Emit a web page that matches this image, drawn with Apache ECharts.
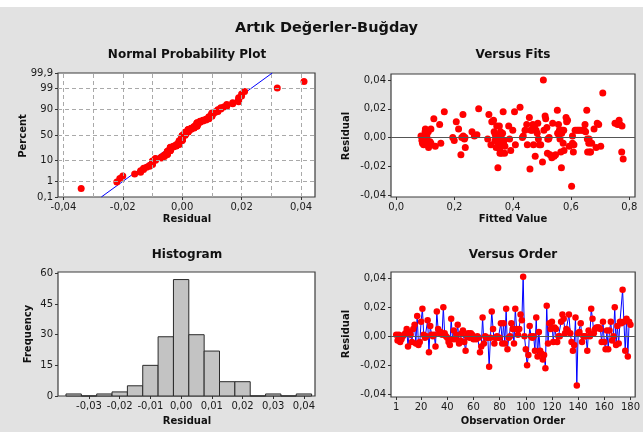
<!DOCTYPE html>
<html>
<head>
<meta charset="utf-8">
<script src="https://cdn.jsdelivr.net/npm/echarts@6/dist/echarts.min.js"></script>
<style>
  html, body { margin: 0; padding: 0; background: #e2e2e2; }
  #c { width: 643px; height: 432px; }
</style>
</head>
<body>
<div id="c"></div>
<script>
// Residuals in observation order (1..180)
const residuals = [
  0.001, -0.003, 0.001, -0.004, -0.002, 0.000, 0.001, 0.002, 0.005, -0.007,
  0.003, 0.001, -0.004, 0.005, 0.008, -0.005, 0.014, -0.006, -0.004, 0.010,
  0.019, 0.001, -0.001, 0.000, 0.011, -0.011, 0.007, 0.001, 0.000, 0.001,
  -0.007, 0.017, 0.005, 0.002, 0.003, 0.001, 0.020, 0.002, 0.000, -0.001,
  -0.004, -0.006, 0.012, -0.002, 0.004, -0.002, 0.001, 0.008, -0.005, -0.003,
  0.002, 0.004, -0.004, -0.010, 0.000, 0.002, -0.001, 0.002, 0.001, -0.002,
  -0.001, -0.002, 0.000, -0.001, -0.011, -0.007, 0.013, -0.005, 0.000, -0.001,
  -0.001, -0.021, -0.001, 0.017, 0.005, -0.005, -0.001, 0.000, -0.001, -0.001,
  0.009, -0.005, 0.009, -0.005, 0.019, -0.009, -0.001, 0.000, 0.009, 0.005,
  -0.005, 0.019, 0.005, 0.001, 0.005, 0.015, 0.011, 0.041, 0.000, -0.009,
  -0.020, -0.013, 0.007, 0.000, -0.001, 0.000, -0.010, 0.013, -0.014, 0.003,
  -0.010, -0.012, -0.016, -0.013, -0.022, 0.021, -0.005, 0.009, 0.005, 0.010,
  -0.004, 0.006, 0.005, -0.004, 0.000, 0.000, 0.010, 0.015, 0.012, 0.002,
  0.005, 0.004, 0.015, 0.002, -0.004, -0.010, -0.006, 0.013, -0.034, 0.002,
  0.003, 0.009, -0.004, 0.000, 0.000, 0.000, -0.010, 0.004, 0.000, 0.019,
  0.012, 0.002, 0.005, 0.006, 0.006, 0.006, 0.005, -0.004, 0.010, -0.004,
  -0.009, 0.004, -0.009, 0.004, 0.010, -0.003, 0.000, 0.020, -0.006, 0.007,
  -0.005, 0.010, 0.009, 0.032, 0.010, -0.010, 0.012, -0.014, 0.010, 0.008
];

// Fitted values and their residuals
const fittedValues = [
  0.085, 0.088, 0.090, 0.094, 0.099, 0.103, 0.105, 0.107, 0.111, 0.114,
  0.119, 0.119, 0.129, 0.134, 0.149, 0.153, 0.165, 0.194, 0.199, 0.206,
  0.214, 0.222, 0.225, 0.229, 0.234, 0.237, 0.260, 0.268, 0.277, 0.283,
  0.314, 0.318, 0.325, 0.328, 0.334, 0.336, 0.339, 0.343, 0.345, 0.349,
  0.351, 0.354, 0.357, 0.359, 0.362, 0.365, 0.367, 0.369, 0.373, 0.386,
  0.389, 0.393, 0.400, 0.406, 0.409, 0.425, 0.433, 0.442, 0.448, 0.450,
  0.457, 0.459, 0.462, 0.469, 0.471, 0.477, 0.480, 0.486, 0.488, 0.491,
  0.502, 0.505, 0.507, 0.511, 0.513, 0.517, 0.519, 0.523, 0.528, 0.534,
  0.537, 0.542, 0.553, 0.554, 0.557, 0.560, 0.562, 0.565, 0.567, 0.570,
  0.573, 0.576, 0.583, 0.585, 0.594, 0.602, 0.605, 0.608, 0.610, 0.614,
  0.625, 0.642, 0.648, 0.654, 0.656, 0.657, 0.661, 0.665, 0.671, 0.679,
  0.686, 0.690, 0.702, 0.709, 0.751, 0.765, 0.768, 0.774, 0.779, 0.775,
  0.100, 0.110, 0.116, 0.230, 0.236, 0.340, 0.347, 0.352, 0.358, 0.363,
  0.355, 0.370, 0.372, 0.356, 0.466, 0.475, 0.484, 0.496, 0.525, 0.547,
  0.558, 0.568, 0.575, 0.588, 0.620, 0.630, 0.636, 0.645, 0.650, 0.662,
  0.667, 0.695, 0.757, 0.760, 0.520, 0.605, 0.436
];
const fitResiduals = [
  0.001, -0.002, -0.004, -0.005, 0.004, 0.003, 0.001, -0.002, -0.007, -0.005,
  0.006, -0.004, 0.013, -0.006, 0.009, -0.004, 0.018, 0.000, -0.002, 0.011,
  0.006, -0.012, 0.000, 0.016, -0.001, -0.007, 0.004, 0.001, 0.002, 0.020,
  -0.001, 0.016, -0.005, 0.011, 0.012, 0.004, -0.002, -0.007, 0.008, -0.021,
  -0.004, 0.008, -0.002, -0.006, -0.011, 0.003, 0.018, -0.005, -0.006, 0.008,
  -0.001, -0.009, 0.005, 0.018, -0.005, 0.021, 0.000, 0.005, 0.009, -0.005,
  0.014, -0.022, 0.005, 0.009, -0.005, -0.013, 0.005, 0.010, -0.001, -0.005,
  -0.017, 0.040, 0.005, 0.015, 0.013, 0.007, -0.011, -0.001, -0.012, -0.014,
  0.010, -0.013, 0.019, 0.003, 0.009, 0.005, -0.001, -0.010, -0.021, 0.005,
  -0.004, -0.009, 0.014, 0.011, -0.006, -0.034, 0.001, -0.010, -0.005, 0.005,
  0.005, 0.005, 0.009, 0.019, -0.001, -0.010, -0.004, -0.010, -0.004, 0.006,
  -0.007, 0.010, -0.006, 0.031, 0.010, 0.012, 0.009, -0.010, -0.015, 0.008,
  0.006, 0.004, -0.003, 0.001, 0.000, 0.002, -0.003, 0.000, 0.004, -0.001,
  -0.008, -0.002, -0.011, -0.011, 0.005, 0.008, 0.003, -0.005, 0.000, -0.012,
  0.002, 0.003, 0.005, 0.012, 0.005, 0.005, 0.005, 0.005, 0.004, -0.001,
  -0.010, 0.009, 0.010, 0.009, -0.001, -0.004, 0.001
];

// Histogram bins (bin centres) and frequencies
const histCenters = [-0.035, -0.030, -0.025, -0.020, -0.015, -0.010, -0.005, 0.000,
                     0.005, 0.010, 0.015, 0.020, 0.025, 0.030, 0.035, 0.040];
const histCounts  = [1, 0, 1, 2, 5, 15, 29, 57, 30, 22, 7, 7, 0, 1, 0, 1];

// Tick labels and axis marks
const probPercents   = [0.1, 1, 10, 50, 90, 99, 99.9];
const probLabels     = ['0,1', '1', '10', '50', '90', '99', '99,9'];
const probGridPct    = [1, 10, 50, 90, 99];
const probGridX      = [-0.04, -0.03, -0.02, -0.01, 0, 0.01, 0.02, 0.03, 0.04];
const probTicksX     = [-0.04, -0.02, 0, 0.02, 0.04];
const residTicks     = [-0.04, -0.02, 0, 0.02, 0.04];
const fitTicks       = [0, 0.2, 0.4, 0.6, 0.8];
const histTicksX     = [-0.03, -0.02, -0.01, 0, 0.01, 0.02, 0.03, 0.04];
const histTicksY     = [0, 15, 30, 45, 60];
const orderTicks     = [1, 20, 40, 60, 80, 100, 120, 140, 160, 180];

// Inverse of the standard normal CDF (Acklam's approximation)
function invNorm(p) {
  const a = [-3.969683028665376e+01, 2.209460984245205e+02, -2.759285104469687e+02,
             1.383577518672690e+02, -3.066479806614716e+01, 2.506628277459239e+00];
  const b = [-5.447609879822406e+01, 1.615858368580409e+02, -1.556989798598866e+02,
             6.680131188771972e+01, -1.328068155288572e+01];
  const c = [-7.784894002430293e-03, -3.223964580411365e-01, -2.400758277161838e+00,
             -2.549732539343734e+00, 4.374664141464968e+00, 2.938163982698783e+00];
  const d = [7.784695709041462e-03, 3.224671290700398e-01, 2.445134137142996e+00,
             3.754408661907416e+00];
  const pl = 0.02425, ph = 1 - pl;
  let q, r;
  if (p < pl) {
    q = Math.sqrt(-2 * Math.log(p));
    return (((((c[0]*q+c[1])*q+c[2])*q+c[3])*q+c[4])*q+c[5]) / ((((d[0]*q+d[1])*q+d[2])*q+d[3])*q+1);
  }
  if (p <= ph) {
    q = p - 0.5; r = q * q;
    return (((((a[0]*r+a[1])*r+a[2])*r+a[3])*r+a[4])*r+a[5])*q / (((((b[0]*r+b[1])*r+b[2])*r+b[3])*r+b[4])*r+1);
  }
  q = Math.sqrt(-2 * Math.log(1 - p));
  return -(((((c[0]*q+c[1])*q+c[2])*q+c[3])*q+c[4])*q+c[5]) / ((((d[0]*q+d[1])*q+d[2])*q+d[3])*q+1);
}

// Normal probability plot: sorted residuals against normal scores (median ranks)
const n = residuals.length;
const sorted = residuals.slice().sort((x, y) => x - y);
const probPoints = sorted.map((r, i) => [r, invNorm((i + 1 - 0.3) / (n + 0.4))]);
const mean = residuals.reduce((s, v) => s + v, 0) / n;
const sd = Math.sqrt(residuals.reduce((s, v) => s + (v - mean) * (v - mean), 0) / (n - 1));
const zLo = invNorm(probPercents[0] / 100);
const zHi = invNorm(probPercents[probPercents.length - 1] / 100);
const fitLine = [[mean + sd * zLo, zLo], [mean + sd * zHi, zHi]];
const probTicksZ = probPercents.map(p => invNorm(p / 100));

const comma = d => v => v.toFixed(d).replace('.', ',').replace(/^-0,0+$/, m => m.slice(1));
const FONT = 'DejaVu Sans';
const RED = '#ff0000';

function axis(gridIndex, min, max, ticks, fmt) {
  return {
    type: 'value', gridIndex, min, max,
    axisLine: { show: false, onZero: false },
    axisTick: { show: true, length: 3, customValues: ticks, lineStyle: { color: '#333', width: 1 } },
    axisLabel: { customValues: ticks, formatter: fmt, fontSize: 10, color: '#1a1a1a',
                 fontFamily: FONT, margin: 5 },
    splitLine: { show: false }
  };
}

const gridStyle = { show: true, backgroundColor: '#ffffff', borderColor: '#3c3c3c', borderWidth: 1.2 };

function txt(x, y, text, size, rotate) {
  return {
    type: 'text', x, y, rotation: rotate ? Math.PI / 2 : 0,
    style: { text, fontFamily: FONT, fontWeight: 'bold', fontSize: size, fill: '#111',
             align: 'center', verticalAlign: 'middle' }
  };
}

const chart = echarts.init(document.getElementById('c'), null, { renderer: 'canvas' });
chart.setOption({
  backgroundColor: '#e2e2e2',
  animation: false,
  graphic: [
    { type: 'rect', shape: { x: 0, y: 0, width: 643, height: 7 }, style: { fill: '#ffffff' } },
    txt(326.5, 28, 'Artık Değerler-Buğday', 14.5),
    txt(187, 55, 'Normal Probability Plot', 12),
    txt(513, 55, 'Versus Fits', 12),
    txt(187, 254.5, 'Histogram', 12),
    txt(513, 254.5, 'Versus Order', 12),
    txt(187, 219, 'Residual', 10),
    txt(513, 219, 'Fitted Value', 10),
    txt(187, 421.5, 'Residual', 10),
    txt(513, 421.5, 'Observation Order', 10),
    txt(23, 136, 'Percent', 10, true),
    txt(346, 136, 'Residual', 10, true),
    txt(28, 334, 'Frequency', 10, true),
    txt(346.5, 334, 'Residual', 10, true)
  ],
  grid: [
    Object.assign({ left: 58, top: 73, width: 257, height: 124 }, gridStyle),
    Object.assign({ left: 391, top: 74, width: 244, height: 123 }, gridStyle),
    Object.assign({ left: 58, top: 272, width: 257, height: 124 }, gridStyle),
    Object.assign({ left: 391, top: 272, width: 246, height: 125 }, gridStyle)
  ],
  xAxis: [
    axis(0, -0.0418, 0.0447, probTicksX, comma(2)),
    axis(1, -0.018, 0.8196, fitTicks, comma(1)),
    axis(2, -0.0401, 0.0436, histTicksX, comma(2)),
    axis(3, -3.0, 183.6, orderTicks, v => String(v))
  ],
  yAxis: [
    axis(0, zLo, zHi, probTicksZ, v => {
      let best = 0;
      probTicksZ.forEach((z, i) => { if (Math.abs(z - v) < Math.abs(probTicksZ[best] - v)) best = i; });
      return probLabels[best];
    }),
    axis(1, -0.0414, 0.0442, residTicks, comma(2)),
    axis(2, 0, 60.7, histTicksY, v => String(v)),
    axis(3, -0.0419, 0.0443, residTicks, comma(2))
  ],
  series: [
    // Normal probability plot: dashed reference grid
    {
      type: 'line', xAxisIndex: 0, yAxisIndex: 0, data: [], z: 1, silent: true,
      markLine: {
        symbol: 'none', silent: true, animation: false,
        label: { show: false },
        lineStyle: { color: '#a9a9a9', type: [4, 3], width: 1 },
        data: probGridX.map(x => ({ xAxis: x })).concat(probGridPct.map(p => ({ yAxis: invNorm(p / 100) })))
      }
    },
    {
      type: 'line', xAxisIndex: 0, yAxisIndex: 0, data: fitLine, z: 2,
      showSymbol: false, lineStyle: { color: '#0000ff', width: 1 }
    },
    {
      type: 'scatter', xAxisIndex: 0, yAxisIndex: 0, data: probPoints, z: 3,
      symbolSize: 7, itemStyle: { color: RED, opacity: 1 }
    },
    // Versus fits
    {
      type: 'scatter', xAxisIndex: 1, yAxisIndex: 1, z: 3,
      data: fittedValues.map((f, i) => [f, fitResiduals[i]]),
      symbolSize: 7, itemStyle: { color: RED, opacity: 1 },
      markLine: {
        symbol: 'none', silent: true, animation: false, label: { show: false },
        lineStyle: { color: '#555555', type: 'solid', width: 1 },
        data: [{ yAxis: 0 }]
      }
    },
    // Histogram
    {
      type: 'custom', xAxisIndex: 2, yAxisIndex: 2,
      data: histCenters.map((c, i) => [c, histCounts[i]]),
      encode: { x: 0, y: 1 },
      renderItem(params, api) {
        const half = (histCenters[1] - histCenters[0]) / 2;
        const c = api.value(0), cnt = api.value(1);
        const p0 = api.coord([c - half, cnt]);
        const p1 = api.coord([c + half, 0]);
        return {
          type: 'rect',
          shape: { x: p0[0], y: p0[1], width: p1[0] - p0[0], height: p1[1] - p0[1] },
          style: { fill: '#c3c3c3', stroke: '#2a2a2a', lineWidth: 1 }
        };
      }
    },
    // Versus order
    {
      type: 'line', xAxisIndex: 3, yAxisIndex: 3, z: 3,
      data: residuals.map((r, i) => [i + 1, r]),
      showSymbol: true, symbol: 'circle', symbolSize: 6.5,
      itemStyle: { color: RED, opacity: 1 },
      lineStyle: { color: '#0000ff', width: 1 },
      markLine: {
        symbol: 'none', silent: true, animation: false, label: { show: false },
        lineStyle: { color: '#555555', type: 'solid', width: 1 },
        data: [{ yAxis: 0 }]
      }
    }
  ]
});
</script>
</body>
</html>
